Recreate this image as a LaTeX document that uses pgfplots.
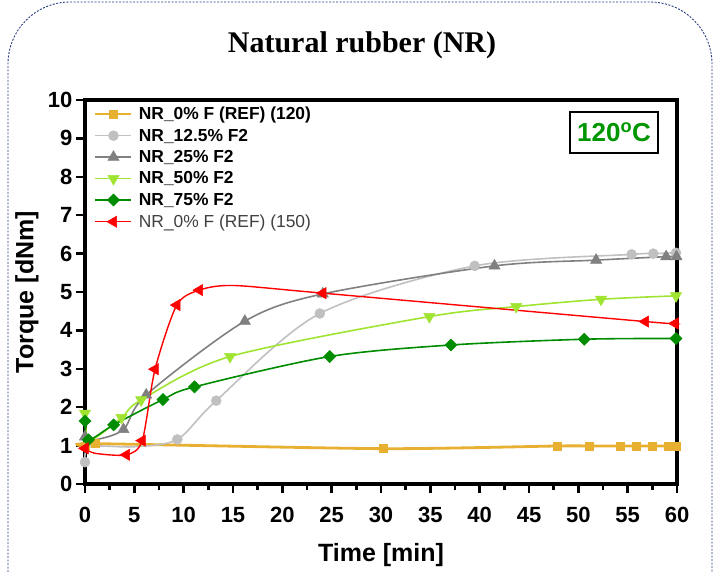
\documentclass[border=0pt]{standalone}
\usepackage{pgfplots}
\pgfplotsset{compat=1.18}
\usepackage{fontspec}
\setmainfont{Liberation Sans}
\newfontfamily\titlefont{Liberation Serif}
\definecolor{cOr}{RGB}{232,176,48}
\definecolor{cLg}{RGB}{192,192,192}
\definecolor{cDg}{RGB}{128,128,128}
\definecolor{cLgr}{RGB}{160,228,50}
\definecolor{cGr}{RGB}{0,140,0}
\definecolor{cRd}{RGB}{255,0,0}
\definecolor{cFrame}{RGB}{40,60,130}
\definecolor{cTemp}{RGB}{0,150,0}
\begin{document}
\begin{tikzpicture}
\useasboundingbox (0,0) rectangle (715pt,-572pt);
\draw[cFrame, line width=0.9pt, dash pattern=on 2pt off 1.5pt, rounded corners=62pt]
  (8pt,-600pt) -- (8pt,-2pt) -- (712pt,-2pt) -- (712pt,-600pt);
\node[font=\titlefont\bfseries\fontsize{30}{36}\selectfont] at (362pt,-45pt) {Natural rubber (NR)};
\begin{axis}[
  at={(85pt,-484pt)}, anchor=south west,
  scale only axis, width=592pt, height=384pt,
  xmin=0, xmax=60, ymin=0, ymax=10,
  xtick={0,5,...,60}, ytick={0,1,...,10},
  minor x tick num=1,
  tick align=outside, tick pos=left,
  axis line style={line width=3.5pt},
  major tick length=9pt, minor tick length=6pt,
  every tick/.style={black, line width=2.5pt},
  tick label style={font=\fontsize{22}{24}\selectfont\bfseries},
  xticklabel style={yshift=-11pt},
  /pgf/number format/assume math mode=true,
  xlabel={Time [min]}, ylabel={Torque [dNm]},
  label style={font=\fontsize{25}{28}\selectfont\bfseries},
  xlabel style={at={(axis description cs:0.5,-0.185)}, anchor=center},
  ylabel style={at={(axis description cs:-0.098,0.5)}, anchor=center},
  clip=false,
  legend cell align=left,
  legend style={at={(axis description cs:0.015,0.985)}, anchor=north west,
    draw=none, fill=none, font=\fontsize{17.4}{21}\selectfont\bfseries,
    row sep=5.8pt, inner sep=0pt, nodes={inner sep=1pt},
    /tikz/every odd column/.append style={column sep=5pt}},
  legend image code/.code={\draw (0pt,0pt) -- (36pt,0pt); \draw plot[only marks] coordinates {(18pt,0pt)};},
]
% NR_0% F (REF) (120)
\addplot[cOr, line width=2.8pt, smooth, tension=0.4, mark=square*, mark size=4pt, mark options={line width=0.5pt}]
  coordinates {(0,0.98) (1,1.05) (30.2,0.92) (47.9,0.99) (51.1,0.99) (54.2,0.99) (55.9,0.99) (57.5,0.99) (59.1,0.99) (59.9,0.99)};
\addlegendentry{NR\_0\% F (REF) (120)}
% NR_12.5% F2
\addplot[cLg, line width=1.6pt, smooth, tension=0.5, mark=*, mark size=5pt, mark indices={1,4,5,6,7,8,9,10}, mark options={line width=0.5pt}]
  coordinates {(0,0.57) (0.5,0.97) (5,0.97) (9.35,1.16) (13.3,2.17) (23.8,4.44) (39.5,5.68) (55.4,5.98) (57.6,6.0) (59.9,6.02)};
\addlegendentry{NR\_12.5\% F2}
% NR_25% F2
\addplot[cDg, line width=1.6pt, smooth, tension=0.5, mark=triangle*, mark size=6.5pt, mark indices={1,3,4,5,6,7,8,9,10}, mark options={line width=0.5pt}]
  coordinates {(0,1.23) (1,1.15) (3.9,1.42) (6.2,2.32) (16.2,4.24) (24.1,4.95) (41.5,5.68) (51.8,5.83) (58.9,5.92) (59.95,5.92)};
\addlegendentry{NR\_25\% F2}
% NR_50% F2
\addplot[cLgr, line width=1.6pt, smooth, tension=0.5, mark=triangle*, mark size=6.5pt, mark indices={1,3,4,5,6,7,8,9}, mark options={rotate=180, line width=0.5pt}]
  coordinates {(0,1.84) (0.5,1.15) (3.7,1.73) (5.7,2.19) (14.7,3.32) (34.9,4.36) (43.7,4.62) (52.3,4.81) (59.9,4.90)};
\addlegendentry{NR\_50\% F2}
% NR_75% F2
\addplot[cGr, line width=1.6pt, smooth, tension=0.5, mark=square*, mark size=4.3pt, mark options={rotate=45, line width=0.5pt}]
  coordinates {(0,1.64) (0.35,1.15) (2.9,1.54) (7.9,2.2) (11.1,2.53) (24.8,3.32) (37.1,3.62) (50.6,3.77) (59.9,3.79)};
\addlegendentry{NR\_75\% F2}
% NR_0% F (REF) (150)
\addplot[cRd, line width=1.4pt, smooth, tension=0.45, mark=triangle*, mark size=6.5pt, mark indices={1,3,4,5,6,7,9,10,11}, mark options={rotate=90, line width=0.5pt}]
  coordinates {(0,0.93) (1,0.8) (4.2,0.76) (5.8,1.13) (7.1,2.99) (9.3,4.66) (11.6,5.05) (15,5.17) (24.1,4.97) (56.8,4.23) (59.8,4.18)};
\addlegendentry{\mdseries\color{black!75}NR\_0\% F (REF) (150)}
\end{axis}
\node[draw=black, line width=1.6pt, text=cTemp, font=\fontsize{26}{28}\selectfont\bfseries, inner sep=4pt, minimum width=88pt, minimum height=41pt] at (614pt,-132.5pt) {120\textsuperscript{o}C};
\end{tikzpicture}
\end{document}
